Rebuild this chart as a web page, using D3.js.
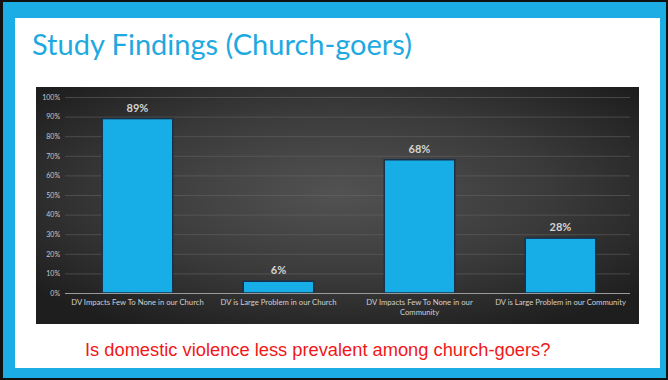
<!DOCTYPE html>
<html>
<head>
<meta charset="utf-8">
<script src="https://cdn.jsdelivr.net/npm/d3@7"></script>
<style>
  html, body { margin: 0; padding: 0; background: #000; }
  #slide { width: 668px; height: 380px; }
</style>
</head>
<body>
<div id="slide"></div>
<script>
// Chart data
const categories = [
    ["DV Impacts Few To None in our Church"],
    ["DV is Large Problem in our Church"],
    ["DV Impacts Few To None in our", "Community"],
    ["DV is Large Problem in our Community"]
];
const values = [89, 6, 68, 28];
const yTicks = [0, 10, 20, 30, 40, 50, 60, 70, 80, 90, 100];

const titleText = "Study Findings (Church-goers)";
const questionText = "Is domestic violence less prevalent among church-goers?";

const W = 668, H = 380;

const svg = d3.select("#slide").append("svg")
    .attr("width", W)
    .attr("height", H);

// Slide frame: black edge, blue border, white body
svg.append("rect").attr("x", 0).attr("y", 0).attr("width", W).attr("height", H).attr("fill", "#111");
svg.append("rect").attr("x", 3).attr("y", 2).attr("width", 663).attr("height", 376).attr("fill", "#1badE4");
svg.append("rect").attr("x", 15).attr("y", 18).attr("width", 645).attr("height", 350).attr("fill", "#fff");

// Title
svg.append("text")
    .attr("x", 32)
    .attr("y", 55)
    .attr("fill", "#1fa9e1")
    .attr("textLength", 380)
    .attr("lengthAdjust", "spacingAndGlyphs")
    .style("font-family", "Lato, 'Open Sans', sans-serif")
    .style("font-size", "28px")
    .style("font-weight", 400)
    .text(titleText);

// Dark chart panel with gradient
const defs = svg.append("defs");
const grad = defs.append("radialGradient")
    .attr("id", "panelGrad")
    .attr("cx", "50%").attr("cy", "45%").attr("r", "65%");
grad.append("stop").attr("offset", "0%").attr("stop-color", "#525252");
grad.append("stop").attr("offset", "55%").attr("stop-color", "#3a3a3a");
grad.append("stop").attr("offset", "100%").attr("stop-color", "#1e1e1e");

svg.append("rect")
    .attr("x", 36).attr("y", 87)
    .attr("width", 603).attr("height", 237)
    .attr("fill", "url(#panelGrad)");

// Scales
const x = d3.scaleBand()
    .domain(d3.range(categories.length))
    .range([67, 631])
    .paddingInner(0.5)
    .paddingOuter(0.25);

const y = d3.scaleLinear()
    .domain([0, 100])
    .range([293, 97]);

const chartFont = "Lato, 'Open Sans', sans-serif";

// Gridlines
svg.append("g")
    .selectAll("line")
    .data(yTicks.filter(d => d > 0))
    .join("line")
    .attr("x1", 65).attr("x2", 630)
    .attr("y1", d => y(d) + 0.5).attr("y2", d => y(d) + 0.5)
    .attr("stroke", "#666")
    .attr("stroke-opacity", 0.55)
    .attr("stroke-width", 1);

// Y axis labels
const yAxis = d3.axisLeft(y)
    .tickValues(yTicks)
    .tickFormat(d => d + "%")
    .tickSize(0)
    .tickPadding(0);

const yg = svg.append("g")
    .attr("transform", "translate(60,0)")
    .call(yAxis);
yg.select(".domain").remove();
yg.selectAll("text")
    .attr("fill", "#c8c8c8")
    .style("font-family", chartFont)
    .style("font-size", "7px");

// Bars
svg.append("g")
    .selectAll("rect")
    .data(values)
    .join("rect")
    .attr("x", (d, i) => x(i))
    .attr("y", d => y(d))
    .attr("width", x.bandwidth())
    .attr("height", d => y(0) - y(d))
    .attr("fill", "#17ade6")
    .attr("stroke", "#17324a")
    .attr("stroke-width", 1.5);

// Value labels
svg.append("g")
    .selectAll("text")
    .data(values)
    .join("text")
    .attr("x", (d, i) => x(i) + x.bandwidth() / 2)
    .attr("y", d => y(d) - 7)
    .attr("text-anchor", "middle")
    .attr("fill", "#d4d4d4")
    .style("font-family", chartFont)
    .style("font-size", "11px")
    .style("font-weight", "bold")
    .text(d => d + "%");

// X axis baseline
svg.append("line")
    .attr("x1", 65).attr("x2", 630)
    .attr("y1", y(0) + 0.5).attr("y2", y(0) + 0.5)
    .attr("stroke", "#9a9a9a")
    .attr("stroke-width", 1);

// Category labels
const catG = svg.append("g")
    .selectAll("text")
    .data(categories)
    .join("text")
    .attr("x", (d, i) => x(i) + x.bandwidth() / 2)
    .attr("y", 305)
    .attr("text-anchor", "middle")
    .attr("fill", "#cfcfcf")
    .style("font-family", chartFont)
    .style("font-size", "7.7px");
catG.each(function(lines, i) {
    const t = d3.select(this);
    lines.forEach((line, j) => {
        t.append("tspan")
            .attr("x", x(i) + x.bandwidth() / 2)
            .attr("dy", j === 0 ? 0 : 10)
            .text(line);
    });
});

// Question
svg.append("text")
    .attr("x", 85)
    .attr("y", 356)
    .attr("fill", "#f01818")
    .style("font-family", "'Liberation Sans', Arial, sans-serif")
    .style("font-size", "18.3px")
    .text(questionText);
</script>
</body>
</html>
